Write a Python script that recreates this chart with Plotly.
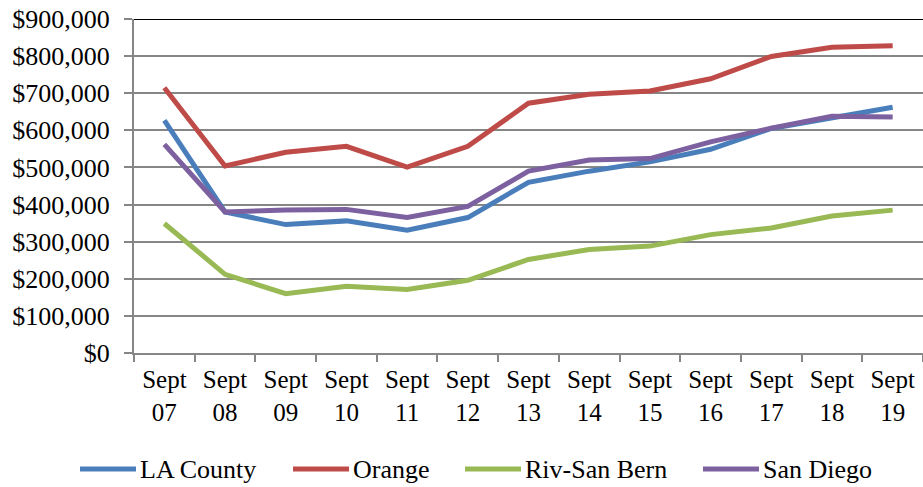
import plotly.graph_objects as go

categories = ["Sept<br>07", "Sept<br>08", "Sept<br>09", "Sept<br>10", "Sept<br>11", "Sept<br>12",
              "Sept<br>13", "Sept<br>14", "Sept<br>15", "Sept<br>16", "Sept<br>17", "Sept<br>18", "Sept<br>19"]
la_county = [627000, 380000, 346000, 356000, 331000, 365000, 460000, 490000, 515000, 549000, 605000, 635000, 662000]
orange = [715000, 504000, 541000, 557000, 501000, 557000, 673000, 697000, 706000, 739000, 799000, 824000, 828000]
riv_san_bern = [349000, 212000, 160000, 180000, 171000, 196000, 252000, 279000, 288000, 319000, 337000, 369000, 385000]
san_diego = [562000, 380000, 385000, 387000, 365000, 395000, 490000, 520000, 524000, 569000, 606000, 638000, 636000]

series = [
    ("LA County", la_county, "#4A7EBB"),
    ("Orange", orange, "#BE4B48"),
    ("Riv-San Bern", riv_san_bern, "#98B954"),
    ("San Diego", san_diego, "#7D60A0"),
]

FONT = "Liberation Serif, Times New Roman, serif"
W, H = 923, 487
ML, MR, MT, MB = 134, 0, 19, 134
PW, PH = W - ML - MR, H - MT - MB

fig = go.Figure()
for name, vals, color in series:
    fig.add_trace(go.Scatter(x=categories, y=vals, name=name, mode="lines",
                             line=dict(color=color, width=5), showlegend=False))

fig.update_layout(
    width=W, height=H,
    margin=dict(l=ML, r=MR, t=MT, b=MB),
    paper_bgcolor="white", plot_bgcolor="white",
    font=dict(family=FONT, size=25, color="black"),
    showlegend=False,
    xaxis=dict(type="category", range=[-0.5, 12.5], showgrid=False, automargin=False,
               showline=True, linecolor="#868686", linewidth=2,
               ticks="outside", tickson="boundaries", ticklen=7, tickcolor="#868686", tickwidth=2,
               ticklabelstandoff=3,
               tickfont=dict(family=FONT, size=25, color="black")),
    yaxis=dict(range=[0, 900000], dtick=100000, tickprefix="$", tickformat=",", automargin=False,
               showgrid=True, gridcolor="#868686", gridwidth=1.5,
               showline=True, linecolor="#868686", linewidth=2,
               ticks="outside", ticklen=8, tickcolor="#868686", tickwidth=2,
               ticklabelstandoff=9,
               zeroline=False,
               tickfont=dict(family=FONT, size=26, color="black")),
)

fig.add_shape(type="line", xref="x domain", yref="y", x0=0, x1=1, y0=900000, y1=900000,
              line=dict(color="black", width=2))

# Legend drawn as line samples + labels (pixel layout converted to paper coords)
def px_x(px):
    return (px - ML) / PW

def px_y(py):
    return (H - MB - py) / PH

legend_starts = [80, 293, 465, 703]
legend_y = 469
for (name, vals, color), sx in zip(series, legend_starts):
    fig.add_shape(type="line", xref="paper", yref="paper",
                  x0=px_x(sx), x1=px_x(sx + 56), y0=px_y(legend_y), y1=px_y(legend_y),
                  line=dict(color=color, width=5))
    fig.add_annotation(xref="paper", yref="paper", x=px_x(sx + 58), y=px_y(legend_y),
                       text=name, showarrow=False, xanchor="left", yanchor="middle",
                       font=dict(family=FONT, size=26, color="black"))

fig.write_html("out.html", config={"displayModeBar": False},
               post_script="document.body.style.margin='0px';document.body.style.overflow='hidden';")
